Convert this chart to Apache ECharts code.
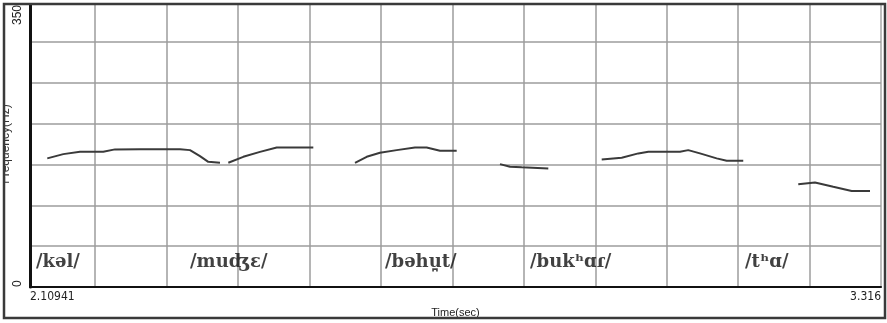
<!DOCTYPE html>
<html><head><meta charset="utf-8">
<script src="https://cdn.jsdelivr.net/npm/echarts@6/dist/echarts.min.js"></script>
<style>html,body{margin:0;padding:0;background:#fff}#c{width:887px;height:323px}</style>
</head><body><div id="c"></div>
<script>
const xMin = 2.10941, xMax = 3.316;
const yMin = 0, yMax = 350, yStep = 50;
const xTickValues = [2.10941, 3.316];
const xTickLabels = ['2.10941', '3.316'];
const yTickValues = [0, 350];
const yTickLabels = ['0', '350'];
const xGridTimes = [2.2016, 2.3036, 2.4043, 2.5064, 2.6071, 2.7092, 2.8098, 2.9119, 3.0126, 3.1132, 3.2153];
const xAxisName = 'Time(sec)';
const yAxisName = 'Frequency(Hz)';

// pitch contour segments (time s, F0 Hz)
const seg1Time = [2.1339, 2.1566, 2.1803, 2.2133, 2.2299, 2.2654, 2.3032, 2.3221, 2.3363, 2.3504, 2.3622, 2.3788];
const seg1Hz   = [157.4, 162.6, 165.4, 165.4, 168.4, 168.7, 168.7, 168.7, 167.5, 160.2, 153.2, 152.0];
const seg2Time = [2.3906, 2.4118, 2.4355, 2.4592, 2.4875, 2.5111];
const seg2Hz   = [152.0, 159.3, 165.4, 170.8, 170.8, 170.8];
const seg3Time = [2.5702, 2.5868, 2.6056, 2.6293, 2.6552, 2.6718, 2.6907, 2.7144];
const seg3Hz   = [152.0, 159.3, 164.2, 167.5, 170.8, 170.8, 166.7, 166.7];
const seg4Time = [2.7758, 2.7900, 2.8066, 2.8443];
const seg4Hz   = [150.4, 147.1, 146.4, 145.1];
const seg5Time = [2.9200, 2.9484, 2.9719, 2.9861, 3.0310, 3.0427, 3.0593, 3.0830, 3.0972, 3.1207];
const seg5Hz   = [156.1, 158.1, 163.5, 165.4, 165.4, 167.5, 163.5, 157.4, 154.4, 154.4];
const seg6Time = [3.1987, 3.2224, 3.2483, 3.2744, 3.3004];
const seg6Hz   = [125.6, 128.0, 122.6, 117.4, 117.4];

const wordLabels = ['/kəl/', '/muʤɛ/', '/bəhu̪t/', '/bukʰɑɾ/', '/tʰɑ/'];
const wordTimes  = [2.1179, 2.3363, 2.6127, 2.8183, 3.1232];
const wordHz     = [30, 30, 30, 30, 30];

const segments = [[seg1Time, seg1Hz], [seg2Time, seg2Hz], [seg3Time, seg3Hz], [seg4Time, seg4Hz], [seg5Time, seg5Hz], [seg6Time, seg6Hz]];

const chart = echarts.init(document.getElementById('c'), null, {renderer: 'canvas'});
const lineSeries = segments.map(([t, h]) => ({
  type: 'line', xAxisIndex: 0, yAxisIndex: 0,
  data: t.map((v, i) => [v, h[i]]),
  showSymbol: false, symbol: 'none', animation: false,
  lineStyle: {color: '#3a3a3a', width: 2}
}));

chart.setOption({
  backgroundColor: '#fff',
  animation: false,
  grid: {left: 30, right: 6, top: 1, bottom: 36, containLabel: false, outerBoundsMode: 'none', show: true, borderColor: '#a8a8a8', borderWidth: 1.5, backgroundColor: 'transparent'},
  xAxis: [{
    type: 'value', min: xMin, max: xMax,
    name: xAxisName, nameLocation: 'middle', nameGap: 20, nameMoveOverlap: false,
    nameTextStyle: {fontFamily: 'Liberation Sans', fontSize: 11, color: '#222'},
    axisLine: {show: true, onZero: false, lineStyle: {color: '#111', width: 2}},
    axisTick: {show: false, customValues: xGridTimes},
    splitLine: {show: true, lineStyle: {color: '#9c9c9c', width: 1.5}},
    axisLabel: {
      customValues: xTickValues, margin: 4,
      formatter: v => { const i = xTickValues.findIndex(x => Math.abs(x - v) < 1e-6); return i >= 0 ? xTickLabels[i] : ''; },
      alignMinLabel: 'left', alignMaxLabel: 'right',
      fontFamily: 'Liberation Sans Narrow, DejaVu Sans Condensed, sans-serif', fontSize: 12, color: '#222'
    }
  }],
  yAxis: [{
    type: 'value', min: yMin, max: yMax, interval: yStep,
    name: yAxisName, nameLocation: 'middle', nameGap: 18, nameRotate: 90, nameMoveOverlap: false,
    nameTextStyle: {fontFamily: 'Liberation Sans', fontSize: 12, color: '#333'},
    axisLine: {show: true, lineStyle: {color: '#111', width: 3}},
    axisTick: {show: false},
    splitLine: {show: true, lineStyle: {color: '#9c9c9c', width: 1.5}},
    axisLabel: {
      customValues: [yTickValues[0]], rotate: 90, align: 'left', verticalAlign: 'middle', margin: 12,
      formatter: () => yTickLabels[0],
      fontFamily: 'Liberation Sans', fontSize: 12, color: '#222'
    }
  }, {
    type: 'value', min: yMin, max: yMax, position: 'left', show: true,
    axisLine: {show: false}, axisTick: {show: false}, splitLine: {show: false},
    axisLabel: {
      customValues: [yTickValues[1]], rotate: 90, align: 'right', verticalAlign: 'middle', margin: 12,
      padding: [0, 4, 0, 0],
      formatter: () => yTickLabels[1],
      fontFamily: 'Liberation Sans', fontSize: 12, color: '#222'
    }
  }],
  series: lineSeries.concat([{
    type: 'scatter', xAxisIndex: 0, yAxisIndex: 0, symbolSize: 0, silent: true,
    data: wordTimes.map((t, i) => [t, wordHz[i], wordLabels[i]]),
    label: {
      show: true, position: [0, 0], align: 'left', verticalAlign: 'middle',
      formatter: p => p.data[2],
      fontFamily: 'DejaVu Serif, Liberation Serif, serif', fontWeight: 'bold', fontSize: 18, color: '#111'
    }
  }]),
  graphic: [
    {type: 'rect', z: 100, shape: {x: 0, y: 0, width: 887, height: 3.5}, style: {fill: '#fff'}},
    {type: 'rect', z: 100, shape: {x: 0, y: 0, width: 3.5, height: 323}, style: {fill: '#fff'}},
    {type: 'rect', z: 101, shape: {x: 4, y: 4, width: 881, height: 314}, style: {fill: 'none', stroke: '#3a3a3a', lineWidth: 2.5}}
  ]
});
</script></body></html>
